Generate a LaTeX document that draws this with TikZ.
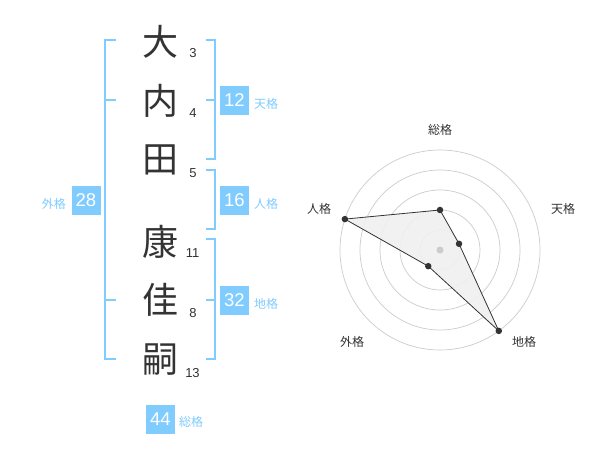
\documentclass[tikz,border=0pt]{standalone}
\usepackage{fontspec}
\setmainfont{Liberation Sans}
\newfontfamily\jp{Noto Sans CJK JP}
\definecolor{skyb}{RGB}{128,204,255}
\definecolor{ink}{RGB}{51,51,51}
\definecolor{ringc}{RGB}{204,204,204}
\definecolor{polyfill}{RGB}{240,240,240}
\begin{document}
\begin{tikzpicture}[x=1pt,y=-1pt,
  kanji/.style={inner sep=0pt, text=ink, font=\jp\fontsize{36}{36}\selectfont},
  strokes/.style={inner sep=0pt, text=ink, font=\fontsize{13}{13}\selectfont},
  numbox/.style={fill=skyb, text=white, minimum size=29pt, inner sep=0pt, font=\fontsize{18.5}{18.5}\selectfont},
  kaku/.style={inner sep=0pt, text=skyb, font=\jp\fontsize{12}{12}\selectfont},
  brack/.style={draw=skyb, line width=2pt},
  ring/.style={draw=ringc, line width=0.7pt},
  rlabel/.style={inner sep=0pt, text=ink, font=\jp\fontsize{12}{12}\selectfont},
  dot/.style={circle, fill=ink, inner sep=0pt, minimum size=6.5pt}
]
\useasboundingbox[fill=white] (0,0) rectangle (600,470);
% kanji
\node[kanji] (k1) at (160,42) {大};
\node[kanji] (k2) at (160,101) {内};
\node[kanji] (k3) at (160,160) {田};
\node[kanji] (k4) at (160,242) {康};
\node[kanji] (k5) at (160,300) {佳};
\node[kanji] (k6) at (160,360) {嗣};
% stroke counts
\node[strokes] (s1) at (193,53) {3};
\node[strokes] (s2) at (193,113) {4};
\node[strokes] (s3) at (193,173) {5};
\node[strokes] (s4) at (192.5,253) {11};
\node[strokes] (s5) at (193,313) {8};
\node[strokes] (s6) at (192.5,373) {13};
% brackets
\draw[brack] (116,40) -| (105,359.5) -- (116,359.5);
\draw[brack] (105,100) -- (116,100);
\draw[brack] (105,300) -- (116,300);
\draw[brack] (206,40) -| (214.5,159.5) -- (206,159.5);
\draw[brack] (214.5,100) -- (206,100);
\draw[brack] (206,170) -| (214.5,229.5) -- (206,229.5);
\draw[brack] (206,239.5) -| (214.5,359.5) -- (206,359.5);
\draw[brack] (214.5,300) -- (206,300);
% boxes
\node[numbox] (b28) at (86,200.5) {28};
\node[kaku, anchor=east] (l28) at (66,203.5) {外格};
\node[numbox] (b12) at (234.5,100.5) {12};
\node[kaku, anchor=west] (l12) at (254,103.5) {天格};
\node[numbox] (b16) at (234.5,200.5) {16};
\node[kaku, anchor=west] (l16) at (254,203.5) {人格};
\node[numbox] (b32) at (234.5,300.5) {32};
\node[kaku, anchor=west] (l32) at (254,303.5) {地格};
\node[numbox] (b44) at (160.5,419) {44};
\node[kaku, anchor=west] (l44) at (179,422) {総格};
% radar
\begin{scope}[shift={(440,250)}, y=1pt]
  \foreach \r in {20,40,60,80,100} \draw[ring] (0,0) circle (\r);
  \coordinate (pS) at (90:40);
  \coordinate (pT) at (18:20);
  \coordinate (pC) at (-54:100);
  \coordinate (pG) at (-126:20);
  \coordinate (pJ) at (162:100);
  \fill[polyfill, opacity=0.9] (pS) -- (pT) -- (pC) -- (pG) -- (pJ) -- cycle;
  \draw[ink, line width=0.8pt] (pS) -- (pT) -- (pC) -- (pG) -- (pJ) -- cycle;
  \node[circle, fill=ringc, inner sep=0pt, minimum size=7pt] (ctr) at (0,0) {};
  \foreach \p in {pS,pT,pC,pG,pJ} \node[dot] at (\p) {};
\end{scope}
\node[rlabel] (rS) at (440,130) {総格};
\node[rlabel] (rT) at (563,208.5) {天格};
\node[rlabel] (rJ) at (319,208.5) {人格};
\node[rlabel] (rG) at (352,342) {外格};
\node[rlabel] (rC) at (524,342) {地格};
\end{tikzpicture}
\end{document}
